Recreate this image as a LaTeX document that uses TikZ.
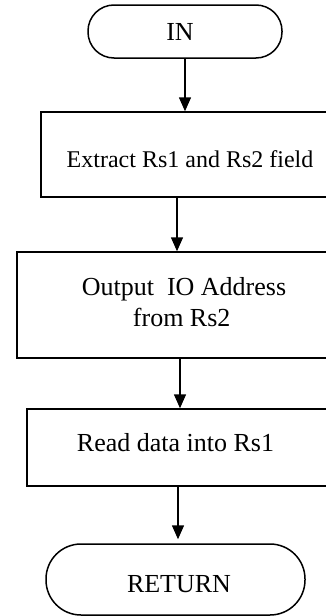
\documentclass[tikz,border=0pt]{standalone}
\usepackage{fontspec}
\setmainfont{Liberation Serif}
\usetikzlibrary{arrows.meta}
\begin{document}
\begin{tikzpicture}[x=1pt,y=-1pt,
  line width=1.5pt,
  term/.style={draw, rectangle, inner sep=0pt},
  procbox/.style={draw, rectangle, inner sep=0pt},
  lbl/.style={inner sep=0pt, anchor=base, font=\fontsize{26}{30}\selectfont},
  arr/.style={-{Triangle[width=12pt,length=14pt]}}
]
\useasboundingbox (0,0) rectangle (325,616);
% terminals and boxes
\node[term, rounded corners=26pt, minimum width=194pt, minimum height=53pt] (in) at (185,31.5) {};
\node[procbox, minimum width=292pt, minimum height=85pt] (b1) at (187,154.5) {};
\node[procbox, minimum width=316pt, minimum height=106pt] (b2) at (175,305) {};
\node[procbox, minimum width=306pt, minimum height=77pt] (b3) at (180,447.5) {};
\node[term, rounded corners=35pt, minimum width=259pt, minimum height=71pt] (ret) at (175.5,579.5) {};
% texts
\node[lbl] (tin) at (180,40.7) {IN};
\node[lbl, font=\fontsize{24}{28}\selectfont] (t1) at (190,167.3) {Extract Rs1 and Rs2 field};
\node[lbl] (t2a) at (184,295.7) {Output\ \ IO Address};
\node[lbl] (t2b) at (181.7,326) {from Rs2};
\node[lbl] (t3) at (175.5,451.7) {Read data into Rs1};
\node[lbl] (tret) at (179,592.3) {RETURN};
% connector columns
\coordinate (c1) at (185,0);
\coordinate (c2) at (177,0);
\coordinate (c3) at (180,0);
\coordinate (c4) at (178,0);
\draw[arr] (in.south -| c1) -- (b1.north -| c1);
\draw[arr] (b1.south -| c2) -- (b2.north -| c2);
\draw[arr] (b2.south -| c3) -- (b3.north -| c3);
\draw[arr] (b3.south -| c4) -- ([yshift=4pt]ret.north -| c4);
\end{tikzpicture}
\end{document}
